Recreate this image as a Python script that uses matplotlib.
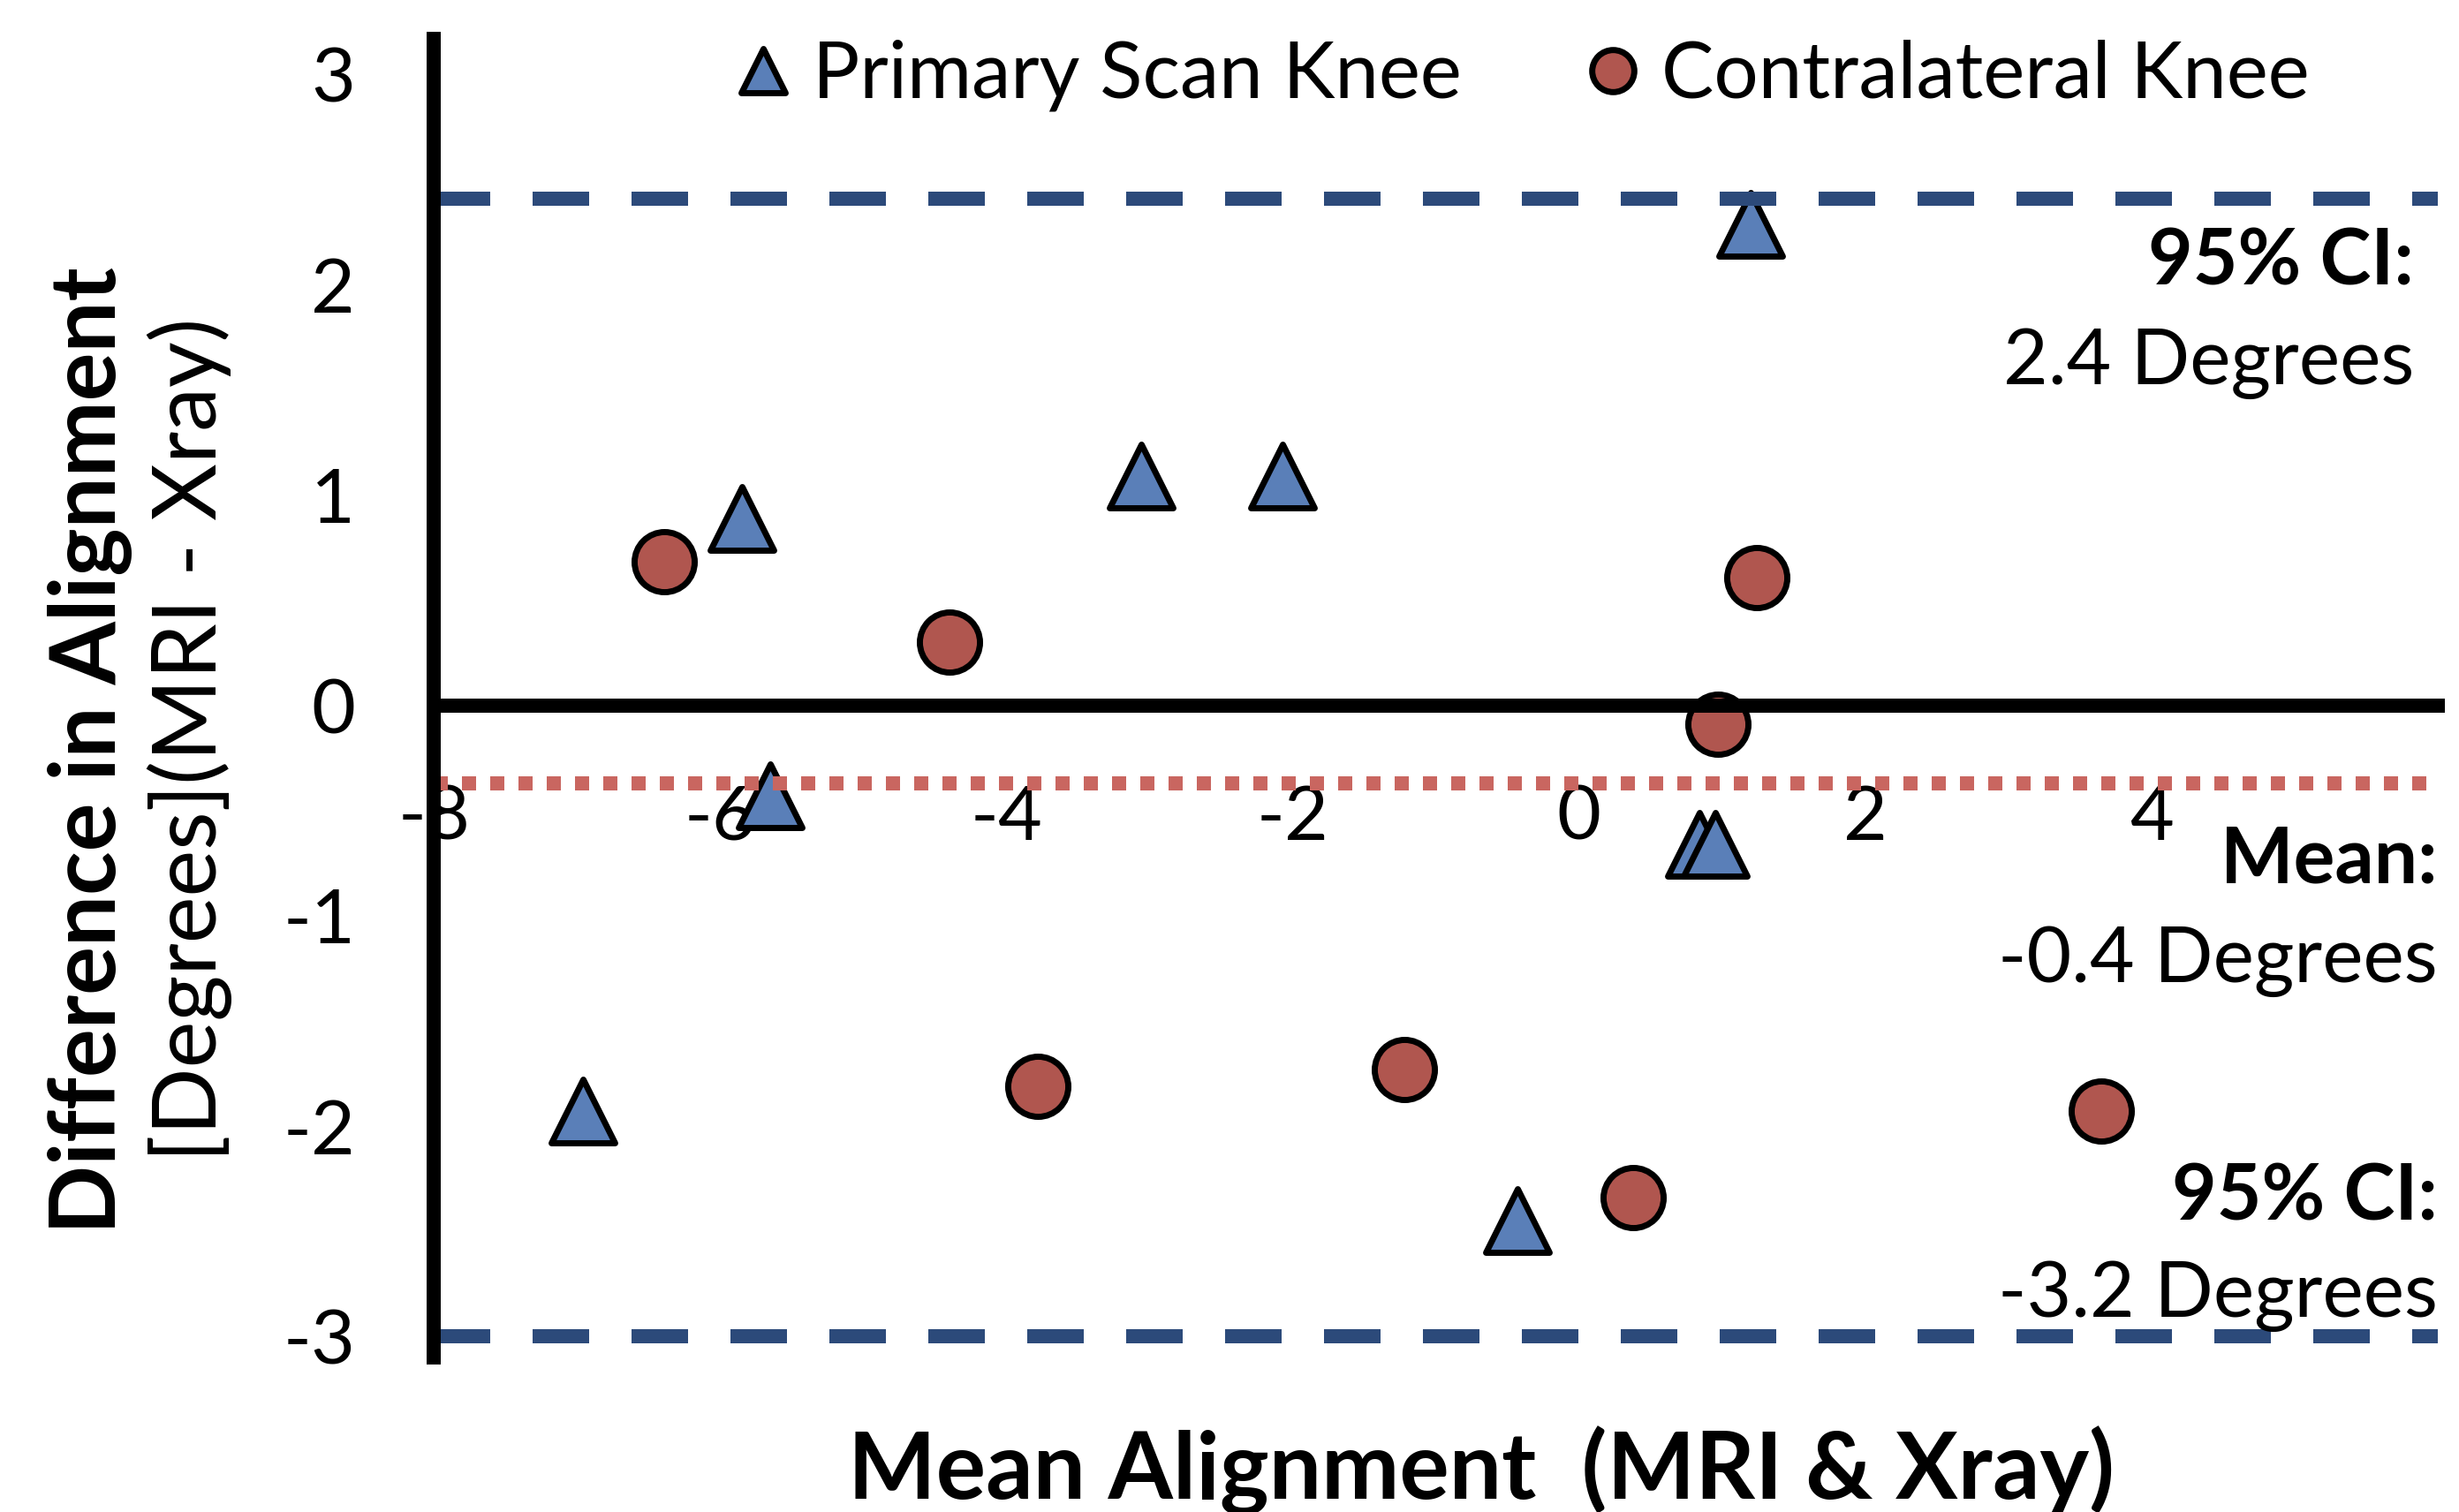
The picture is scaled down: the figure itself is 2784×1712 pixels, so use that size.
import matplotlib
matplotlib.use('Agg')
import matplotlib.pyplot as plt
from matplotlib.markers import MarkerStyle

plt.rcParams['font.family'] = ['Lato', 'DejaVu Sans']
plt.rcParams['axes.unicode_minus'] = False

# data
tri_x = [-5.85, -3.06, -2.07, 1.20, -5.65, 0.84, 0.95, -6.96, -0.43]
tri_y = [0.89, 1.09, 1.09, 2.29, -0.43, -0.66, -0.66, -1.93, -2.45]
circ_x = [-6.39, -4.40, 1.24, 0.97, -3.78, -1.22, 0.38, 3.65]
circ_y = [0.685, 0.30, 0.61, -0.09, -1.81, -1.73, -2.34, -1.93]

upper_ci = 2.41
mean_diff = -0.37
lower_ci = -3.0

xticks = [-8, -6, -4, -2, 0, 2, 4]
yticks = [-3, -2, -1, 0, 1, 2, 3]

tri_col = '#5A7FB8'
circ_col = '#B0564F'
dash_col = '#2C4A7A'
dot_col = '#C96660'

fig = plt.figure(figsize=(13.92, 8.56), dpi=200)
ax = fig.add_axes([0.1764, 0.1022, 0.815, 0.8721])

tri_m = MarkerStyle('^', joinstyle='round')
h1, = ax.plot(tri_x, tri_y, ls='none', marker=tri_m, ms=26, mfc=tri_col,
              mec='black', mew=2.5, zorder=2, label='Primary Scan Knee')
h2, = ax.plot(circ_x, circ_y, ls='none', marker='o', ms=24.5, mfc=circ_col,
              mec='black', mew=2.5, zorder=2, label='Contralateral Knee')

# limits of agreement + mean
ax.axhline(upper_ci, color=dash_col, lw=5.76, ls=(0, (4, 3)), zorder=3)
ax.axhline(lower_ci, color=dash_col, lw=5.76, ls=(0, (4, 3)), zorder=3)
ax.axhline(mean_diff, color=dot_col, lw=5.76, ls=(0, (1, 1)), zorder=3)

ax.set_xlim(-8, 6)
ax.set_ylim(-3.1, 3.17)
ax.set_xticks(xticks)
ax.set_yticks(yticks)

for s in ['top', 'right']:
    ax.spines[s].set_visible(False)
ax.spines['bottom'].set_position(('data', 0))
for s in ['left', 'bottom']:
    ax.spines[s].set_linewidth(5.76)
    ax.spines[s].set_zorder(4)
ax.tick_params(length=0, labelsize=31)
ax.tick_params(axis='x', pad=32)
ax.tick_params(axis='y', pad=32)

ax.legend(handles=[h1, h2], loc='center left', bbox_to_anchor=(0.2985, 0.9498),
          bbox_transform=fig.transFigure, ncol=2, frameon=False, fontsize=32,
          markerscale=0.7, handlelength=0.75, handletextpad=0.25,
          columnspacing=1.55, borderpad=0, borderaxespad=0)

fig.text(0.6024, 0.0275, 'Mean Alignment  (MRI & Xray)', ha='center', va='center',
         fontsize=38, fontweight='bold')
fig.text(0.0366, 0.5035, 'Difference in Alignment', rotation=90, ha='center',
         va='center', fontsize=37, fontweight='bold')
fig.text(0.0771, 0.511, '[Degrees](MRI - Xray)', rotation=90, ha='center',
         va='center', fontsize=36)

# annotations on the right
fs_ann = 31.5
fig.text(2733/2784, 1-297/1712, '95% CI:', ha='right', va='center', fontsize=fs_ann, fontweight='bold')
fig.text(2733/2784, 1-412/1712, '2.4 Degrees', ha='right', va='center', fontsize=fs_ann)
fig.text(2760/2784, 1-974/1712, 'Mean:', ha='right', va='center', fontsize=fs_ann, fontweight='bold')
fig.text(2760/2784, 1-1089/1712, '-0.4 Degrees', ha='right', va='center', fontsize=fs_ann)
fig.text(2760/2784, 1-1356/1712, '95% CI:', ha='right', va='center', fontsize=fs_ann, fontweight='bold')
fig.text(2760/2784, 1-1468/1712, '-3.2 Degrees', ha='right', va='center', fontsize=fs_ann)

fig.savefig('out.png', dpi=200)
